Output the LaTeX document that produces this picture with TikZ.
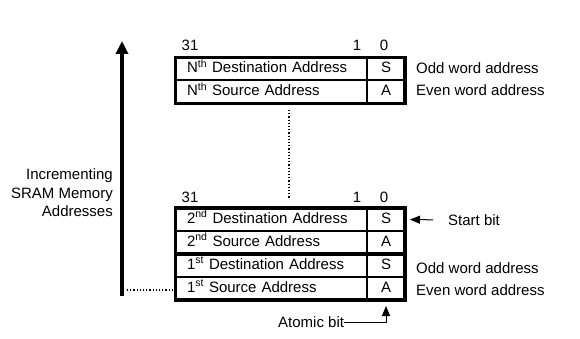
\documentclass[tikz,border=0pt]{standalone}
\usepackage{fontspec}
\setmainfont{Liberation Sans}
\usetikzlibrary{arrows.meta,positioning}

\begin{document}
\begin{tikzpicture}[
    x=1pt, y=-1pt,
    font=\fontsize{15}{18.5}\selectfont,
    addr/.style={draw, line width=1pt, minimum height=22pt, inner xsep=11pt,
        inner ysep=0pt, text width=168.5pt, align=left, text height=11pt, text depth=4pt},
    bitcell/.style={draw, line width=1pt, minimum height=22pt, minimum width=37pt,
        inner sep=0pt, text height=11pt, text depth=4pt},
    frame/.style={line width=3.2pt},
    bitnum/.style={inner sep=0pt},
    side/.style={anchor=west, inner sep=0pt},
    growarrow/.style={line width=4pt, -{Triangle[width=12pt,length=13pt]}},
    pointer/.style={line width=1pt, -{Triangle[width=8pt,length=10pt]}},
    gap/.style={line width=1.2pt, dotted}
]
\useasboundingbox (0,0) rectangle (580,339);

% ---------- Parameters ----------
\def\xleft{175.5}
\def\topN{57.5}
\def\topone{208}
\def\xside{416}

% ---------- Nth entry ----------
\node[addr, anchor=north west] (dN) at (\xleft,\topN) {N\textsuperscript{th} Destination Address};
\node[bitcell, right=0pt of dN] (dNbit) {S};
\node[addr, below=0pt of dN] (sN) {N\textsuperscript{th} Source Address};
\node[bitcell, right=0pt of sN] (sNbit) {A};
\draw[frame] (dN.north west) rectangle (sNbit.south east);

% ---------- 2nd and 1st entries ----------
\node[addr, anchor=north west] (d2) at (\xleft,\topone) {2\textsuperscript{nd} Destination Address};
\node[bitcell, right=0pt of d2] (d2bit) {S};
\node[addr, below=0pt of d2] (s2) {2\textsuperscript{nd} Source Address};
\node[bitcell, right=0pt of s2] (s2bit) {A};
\node[addr, below=0pt of s2] (d1) {1\textsuperscript{st} Destination Address};
\node[bitcell, right=0pt of d1] (d1bit) {S};
\node[addr, below=0pt of d1] (s1) {1\textsuperscript{st} Source Address};
\node[bitcell, right=0pt of s1] (s1bit) {A};
\draw[frame] (d2.north west) rectangle (s1bit.south east);
\draw[frame] (s2.south west) -- (s2bit.south east);

% ---------- Bit numbers ----------
\node[bitnum] (hiN) at (190,45) {31};
\node[bitnum] (oneN) at (357,45) {1};
\node[bitnum] (zeroN) at (384,45) {0};
\node[bitnum] (hi1) at (190,197) {31};
\node[bitnum] (one1) at (357,197) {1};
\node[bitnum] (zero1) at (384,197) {0};

% ---------- Word address labels ----------
\node[side] (oddN) at (\xside,68) {Odd word address};
\node[side] (evenN) at (\xside,90) {Even word address};
\node[side] (odd1) at (\xside,268) {Odd word address};
\node[side] (even1) at (\xside,290) {Even word address};

% ---------- Memory direction ----------
\coordinate (axisbase) at (122,296);
\coordinate (axistip) at (122,41);
\draw[growarrow] (axisbase) -- (axistip);
\node[align=right, anchor=east, inner sep=0pt] (axislbl) at (113,193)
    {Incrementing\\SRAM Memory\\Addresses};

% ---------- Dotted gaps ----------
\coordinate (gaptop) at (289,110);
\coordinate (gapbot) at (289,198);
\draw[gap] (gaptop) -- (gapbot);
\coordinate (baseleft) at (127,290);
\coordinate (baseright) at (172,290);
\draw[gap] (baseleft) -- (baseright);

% ---------- Bit pointers ----------
\node[side] (startlbl) at (448,220) {Start bit};
\draw[pointer, shorten <=15pt, shorten >=5pt] (startlbl.west) -- (d2bit.east);

\node[side] (atomlbl) at (278,322) {Atomic bit};
\draw[pointer, shorten >=6pt] (atomlbl.east) -| (s1bit.south);

\end{tikzpicture}
\end{document}
